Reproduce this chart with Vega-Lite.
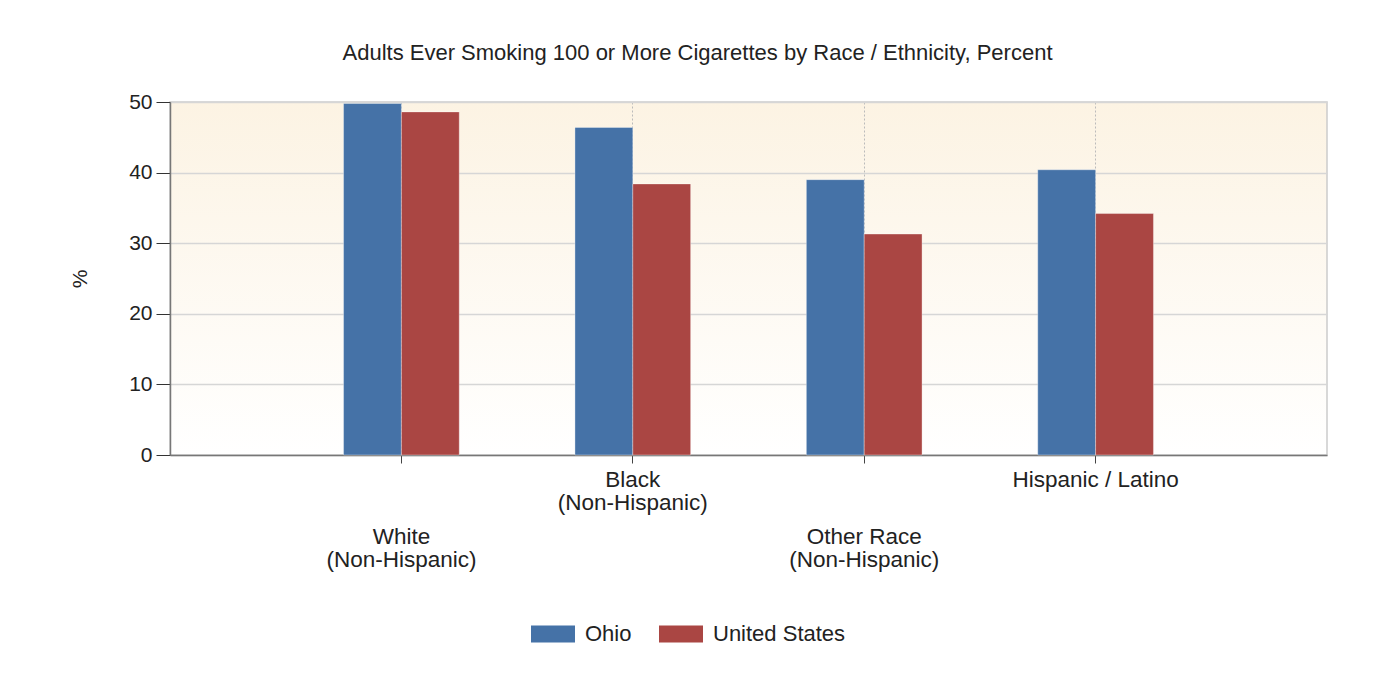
{
  "$schema": "https://vega.github.io/schema/vega-lite/v6.json",
  "autosize": {"type": "none"},
  "width": 1157,
  "height": 353,
  "padding": {"left": 170, "top": 102, "right": 50, "bottom": 229},
  "background": "white",
  "title": {
    "text": "Adults Ever Smoking 100 or More Cigarettes by Race / Ethnicity, Percent",
    "font": "Liberation Sans",
    "fontSize": 22,
    "fontWeight": "normal",
    "color": "#222222",
    "anchor": "middle",
    "dx": -51,
    "offset": 26
  },
  "data": {
    "values": [
      {"race": "White (Non-Hispanic)", "region": "Ohio", "pct": 49.8},
      {"race": "White (Non-Hispanic)", "region": "United States", "pct": 48.6},
      {"race": "Black (Non-Hispanic)", "region": "Ohio", "pct": 46.4},
      {"race": "Black (Non-Hispanic)", "region": "United States", "pct": 38.4},
      {"race": "Other Race (Non-Hispanic)", "region": "Ohio", "pct": 39.0},
      {"race": "Other Race (Non-Hispanic)", "region": "United States", "pct": 31.3},
      {"race": "Hispanic / Latino", "region": "Ohio", "pct": 40.4},
      {"race": "Hispanic / Latino", "region": "United States", "pct": 34.2}
    ]
  },
  "mark": {"type": "bar", "stroke": "#ffffff", "strokeOpacity": 0.35, "strokeWidth": 1},
  "encoding": {
    "x": {
      "field": "race",
      "type": "nominal",
      "sort": null,
      "scale": {"paddingInner": 0, "paddingOuter": 0.5},
      "axis": {
        "title": null,
        "labelAngle": 0,
        "labelFont": "Liberation Sans",
        "labelFontSize": 22.5,
        "labelColor": "#222222",
        "labelLineHeight": 23,
        "labelBaseline": "top",
        "labelExpr": "indexof(datum.value, ' (') > 0 ? [substring(datum.value, 0, indexof(datum.value, ' (')), substring(datum.value, indexof(datum.value, ' (') + 1)] : datum.value",
        "labelPadding": {"condition": {"test": "datum.value == 'White (Non-Hispanic)' || datum.value == 'Other Race (Non-Hispanic)'", "value": 62}, "value": 5},
        "labelOverlap": false,
        "labelLimit": 400,
        "tickSize": 8,
        "tickColor": "#444444",
        "domainColor": "#777777",
        "domainWidth": 1.5,
        "grid": true,
        "gridColor": "#bbbbbb",
        "gridDash": [2, 2],
        "gridWidth": 1
      }
    },
    "xOffset": {
      "field": "region",
      "type": "nominal",
      "scale": {"paddingInner": 0, "paddingOuter": 1}
    },
    "y": {
      "field": "pct",
      "type": "quantitative",
      "scale": {"domain": [0, 50], "nice": false},
      "axis": {
        "title": "%",
        "titleFont": "Liberation Sans",
        "titleFontSize": 21,
        "titleFontWeight": "normal",
        "titleColor": "#222222",
        "titlePadding": 38,
        "values": [0, 10, 20, 30, 40, 50],
        "labelFont": "Liberation Sans",
        "labelFontSize": 21,
        "labelColor": "#222222",
        "labelPadding": 4,
        "tickSize": 14,
        "tickColor": "#333333",
        "domainColor": "#777777",
        "domainWidth": 1.5,
        "grid": true,
        "gridColor": "#d6d6d6",
        "gridWidth": 1.5
      }
    },
    "color": {
      "field": "region",
      "type": "nominal",
      "scale": {"domain": ["Ohio", "United States"], "range": ["#4572A7", "#AA4643"]},
      "legend": {
        "title": null,
        "orient": "none",
        "direction": "horizontal",
        "legendX": 361,
        "legendY": 510,
        "symbolType": "M-1,-0.39H1V0.39H-1Z",
        "symbolSize": 1936,
        "symbolStrokeWidth": 0,
        "symbolOpacity": 1,
        "labelFont": "Liberation Sans",
        "labelFontSize": 22,
        "labelColor": "#222222",
        "labelOffset": 10,
        "columnPadding": 27
      }
    }
  },
  "config": {
    "view": {
      "stroke": "#cccccc",
      "strokeWidth": 1.5,
      "fill": {
        "gradient": "linear",
        "x1": 0, "y1": 0, "x2": 0, "y2": 1,
        "stops": [
          {"offset": 0, "color": "#fcf3e3"},
          {"offset": 1, "color": "#ffffff"}
        ]
      }
    }
  }
}
